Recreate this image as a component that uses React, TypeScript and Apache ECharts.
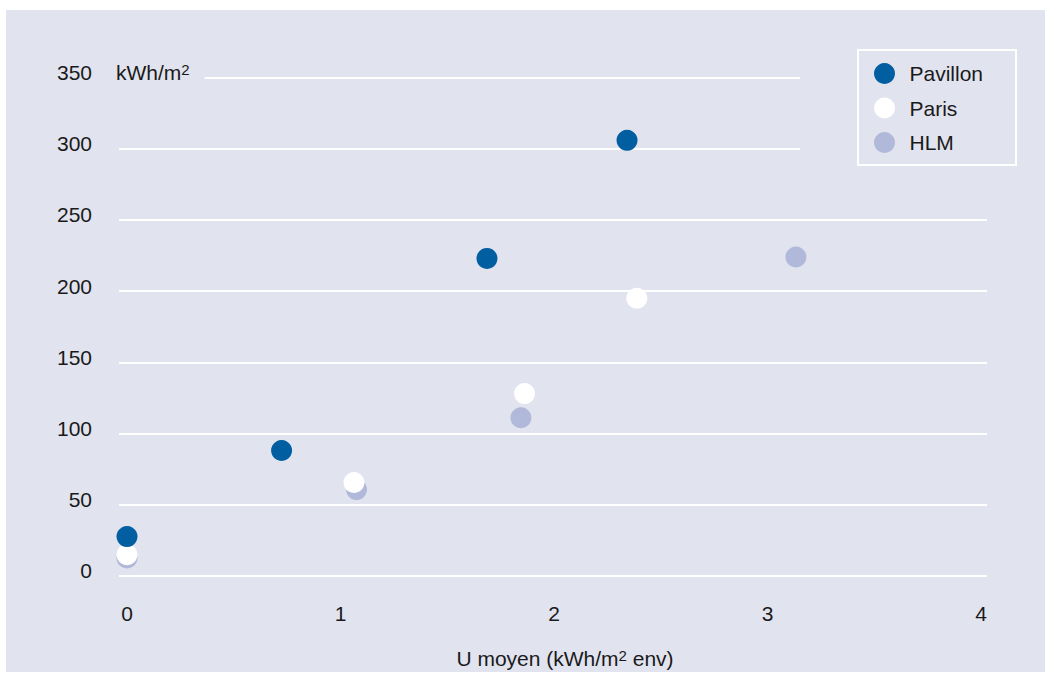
import React, { useEffect, useRef } from "react";
import * as echarts from "echarts";

const seriesNames = ["Pavillon", "Paris", "HLM"];
const pavillon: [number, number][] = [
  [0, 27.5],
  [0.724, 88],
  [1.686, 223],
  [2.342, 306],
];
const paris: [number, number][] = [
  [0, 14.8],
  [1.063, 65.5],
  [1.862, 128],
  [2.388, 195],
];
const hlm: [number, number][] = [
  [0, 12.5],
  [1.075, 60.5],
  [1.845, 111],
  [3.133, 224],
];
const xTicks = [0, 1, 2, 3, 4];
const yUnit = "kWh/m{sup|2}";
const xTitle = "U moyen (kWh/m{sup|2} env)";

const BG = "#e1e3ef";
const FONT = "'Liberation Sans', Arial, sans-serif";
const FS = 21;
const SUP = 15;
const TXT = "#1a1a1a";

export default function App() {
  const ref = useRef<HTMLDivElement>(null);
  useEffect(() => {
    document.body.style.margin = "0";
    const chart = echarts.init(ref.current!, null, { renderer: "svg" });
    chart.setOption({
      animation: false,
      backgroundColor: "#ffffff",
      textStyle: { fontFamily: FONT, fontSize: FS, color: TXT },
      graphic: [
        {
          type: "rect",
          z: -100,
          shape: { x: 6, y: 10, width: 1039, height: 662 },
          style: { fill: BG },
        },
        {
          type: "rect",
          z: 1,
          shape: { x: 800, y: 45, width: 200, height: 122 },
          style: { fill: BG },
        },
        {
          type: "text",
          z: 1,
          x: 116,
          y: 72,
          style: {
            text: yUnit,
            fontSize: FS,
            fontFamily: FONT,
            fill: TXT,
            align: "left",
            verticalAlign: "middle",
            backgroundColor: BG,
            padding: [4, 15, 4, 0],
            rich: {
              sup: { fontSize: SUP, verticalAlign: "top", fontFamily: FONT, fill: TXT },
            },
          },
        },
      ],
      grid: { left: 119, right: 64, top: 77.7, bottom: 108.3, containLabel: false },
      xAxis: {
        type: "value",
        min: -0.0375,
        max: 4.028,
        axisLine: { show: false },
        axisTick: { show: false },
        splitLine: { show: false },
        axisLabel: {
          customValues: xTicks,
          margin: 27,
          fontSize: FS,
          color: TXT,
          fontFamily: FONT,
        },
        name: xTitle,
        nameLocation: "middle",
        nameGap: 72,
        nameTextStyle: {
          fontSize: FS,
          color: TXT,
          fontFamily: FONT,
          padding: [0, 0, 0, 24],
          rich: {
            sup: { fontSize: SUP, verticalAlign: "top", fontFamily: FONT, color: TXT },
          },
        },
      },
      yAxis: {
        type: "value",
        min: 0,
        max: 350,
        interval: 50,
        axisLine: { show: false },
        axisTick: { show: false },
        splitLine: { show: true, lineStyle: { color: "#ffffff", width: 2 } },
        axisLabel: {
          margin: 27,
          fontSize: FS,
          color: TXT,
          fontFamily: FONT,
          verticalAlign: "bottom",
          lineHeight: 10,
        },
      },
      legend: {
        data: seriesNames,
        orient: "vertical",
        left: 858,
        top: 50,
        padding: [13, 33, 12, 16],
        itemWidth: 40,
        itemHeight: 21,
        itemGap: 13.5,
        icon: "circle",
        borderColor: "#ffffff",
        borderWidth: 2,
        backgroundColor: BG,
        textStyle: { fontSize: FS, color: TXT, fontFamily: FONT },
      },
      series: [
        {
          name: "Pavillon",
          type: "scatter",
          z: 4,
          symbolSize: 21,
          itemStyle: { color: "#005ea1", opacity: 1 },
          data: pavillon,
        },
        {
          name: "Paris",
          type: "scatter",
          z: 3,
          symbolSize: 21,
          itemStyle: { color: "#ffffff", opacity: 1 },
          data: paris,
        },
        {
          name: "HLM",
          type: "scatter",
          z: 2,
          symbolSize: 21,
          itemStyle: { color: "#b0b9d9", opacity: 1 },
          data: hlm,
        },
      ],
    });
    return () => chart.dispose();
  }, []);
  return <div ref={ref} style={{ width: 1051, height: 684 }} />;
}
